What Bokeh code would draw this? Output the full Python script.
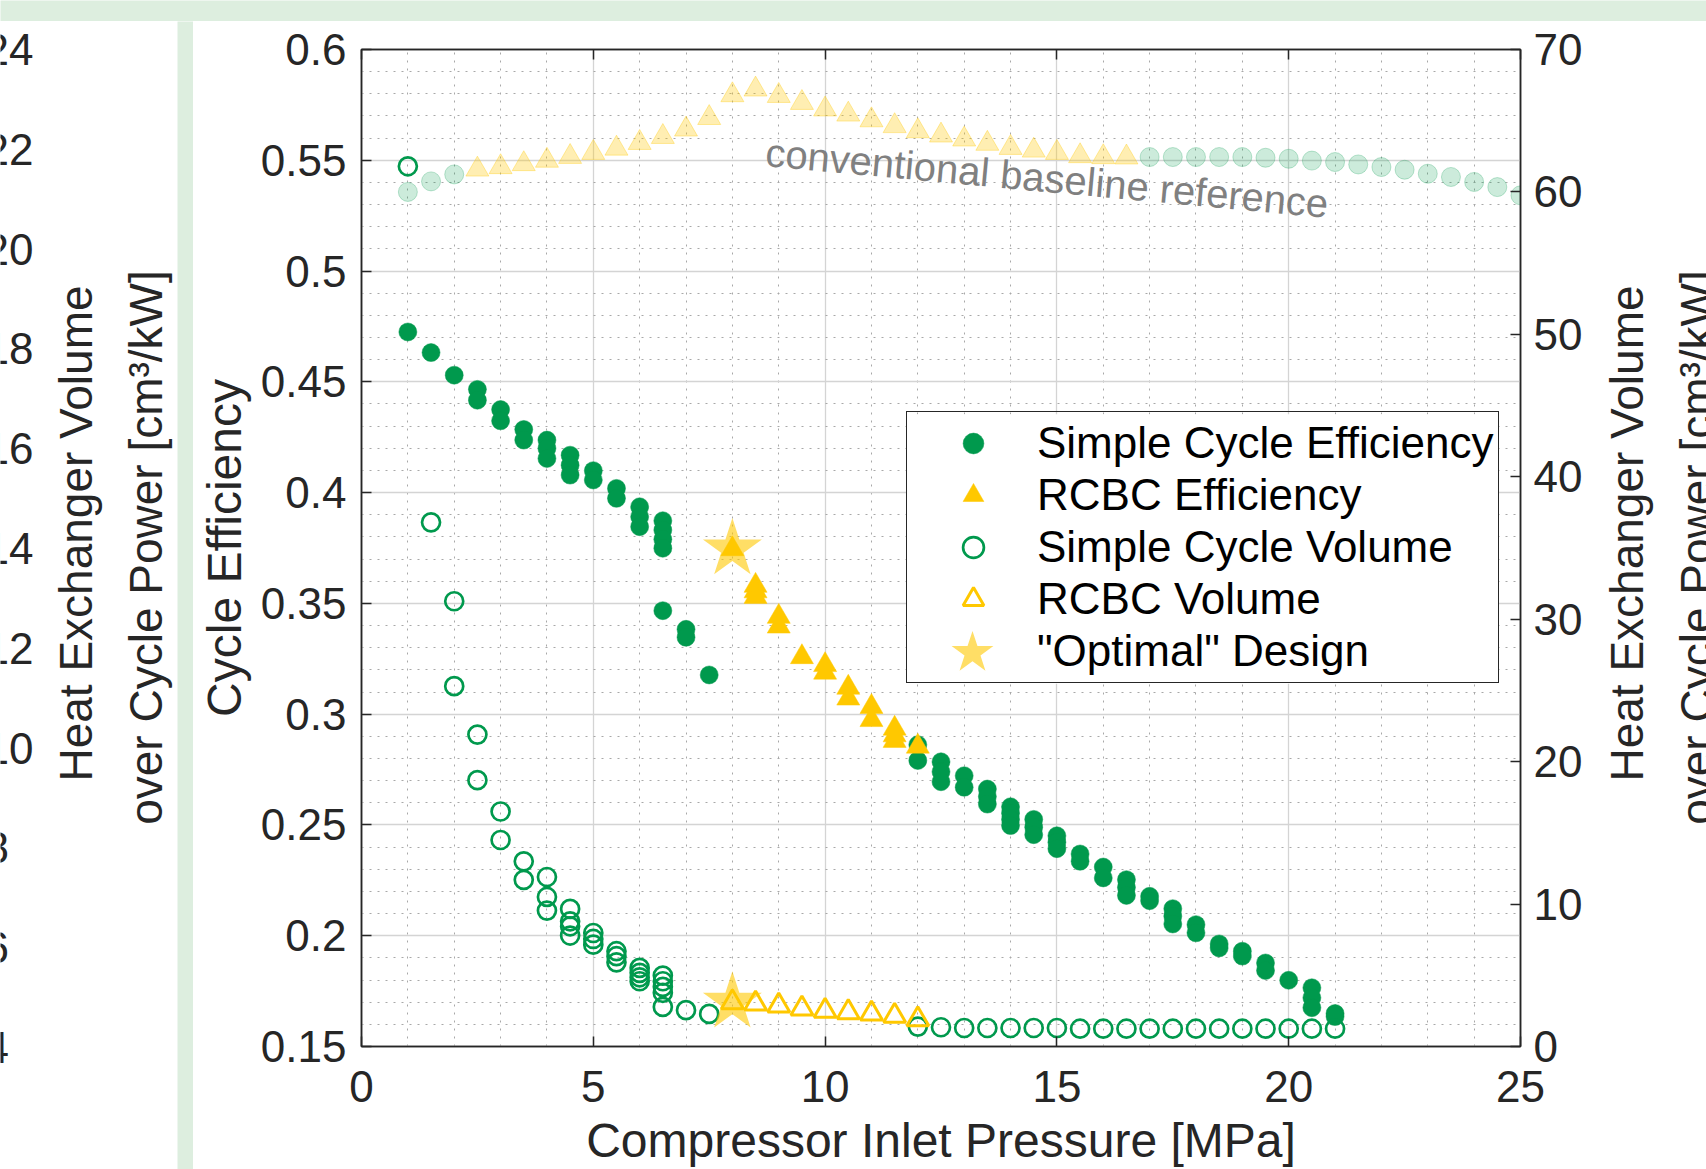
import math
from bokeh.plotting import figure
from bokeh.models import Range1d, LinearAxis, FixedTicker, Label, Legend, LegendItem
from bokeh.layouts import column, row
from bokeh.embed import file_html
from bokeh.resources import INLINE

# ---------------- data ----------------
# Simple cycle efficiency (filled circles, left axis)
SC_EFF_P = [1, 1.5, 2, 2.5, 2.5, 3, 3, 3.5, 3.5, 4, 4, 4, 4.5, 4.5, 4.5, 5, 5, 5.5, 5.5,
            6, 6, 6, 6.5, 6.5, 6.5, 6.5, 6.5, 7, 7, 7.5,
            12, 12, 12.5, 12.5, 12.5, 13, 13, 13.5, 13.5, 13.5, 14, 14, 14, 14,
            14.5, 14.5, 14.5, 15, 15, 15, 15.5, 15.5, 16, 16, 16.5, 16.5, 16.5,
            17, 17, 17.5, 17.5, 17.5, 18, 18, 18.5, 18.5, 19, 19, 19.5, 19.5, 20,
            20.5, 20.5, 20.5, 21, 21]
SC_EFF = [0.4725, 0.4632, 0.453, 0.4466, 0.4417, 0.4375, 0.4324, 0.4285, 0.4237,
          0.4237, 0.42, 0.4154, 0.4169, 0.4124, 0.4079, 0.4099, 0.4057, 0.4019, 0.3974,
          0.3936, 0.3891, 0.3846, 0.3873, 0.3831, 0.3789, 0.3749, 0.3467, 0.3383, 0.3347, 0.3177,
          0.2862, 0.2791, 0.2785, 0.274, 0.2695, 0.2722, 0.267, 0.2662, 0.2628, 0.2594,
          0.2582, 0.2553, 0.2525, 0.2497, 0.2525, 0.249, 0.2456, 0.2451, 0.2422, 0.2393,
          0.2369, 0.2336, 0.231, 0.2261, 0.2253, 0.2218, 0.2182, 0.2178, 0.2158,
          0.2122, 0.2088, 0.2053, 0.205, 0.2013, 0.1963, 0.1945, 0.193, 0.1908,
          0.1877, 0.1843, 0.1799, 0.1765, 0.172, 0.1675, 0.1649, 0.1635]

# RCBC efficiency (filled triangles, left axis)
RC_EFF_P = [8, 8.5, 8.5, 8.5, 9, 9, 9.5, 10, 10, 10.5, 10.5, 11, 11, 11.5, 11.5, 11.5, 12]
RC_EFF = [0.3745, 0.358, 0.3555, 0.353, 0.344, 0.3396, 0.3258, 0.3222, 0.3188, 0.312, 0.3071,
          0.3033, 0.2974, 0.2935, 0.2905, 0.288, 0.2854]

# Simple cycle volume (open circles, right axis)
SC_VOL_P = [1, 1.5, 2, 2, 2.5, 2.5, 3, 3, 3.5, 3.5, 4, 4, 4, 4.5, 4.5, 4.5, 4.5,
            5, 5, 5, 5.5, 5.5, 5.5, 6, 6, 6, 6, 6.5, 6.5, 6.5, 6.5, 6.5, 7, 7.5,
            12, 12.5, 13, 13.5, 14, 14.5, 15, 15.5, 16, 16.5, 17, 17.5, 18, 18.5,
            19, 19.5, 20, 20.5, 21]
SC_VOL = [61.8, 36.8, 31.26, 25.3, 21.9, 18.7, 16.5, 14.5, 13.0, 11.7, 11.9, 10.5, 9.54,
          9.66, 8.79, 8.44, 7.79, 7.97, 7.55, 7.15, 6.69, 6.34, 5.91, 5.52, 5.17, 4.86, 4.58,
          4.98, 4.58, 4.19, 3.77, 2.78, 2.55, 2.29,
          1.4, 1.35, 1.3, 1.3, 1.3, 1.3, 1.3, 1.25, 1.25, 1.25, 1.25, 1.25, 1.25, 1.25,
          1.25, 1.25, 1.25, 1.25, 1.25]

# RCBC volume (open triangles, right axis)
RC_VOL_P = [8, 8.5, 9, 9.5, 10, 10.5, 11, 11.5, 12]
RC_VOL = [3.1, 3.0, 2.87, 2.66, 2.5, 2.4, 2.3, 2.15, 1.9]

# Conventional baseline reference (faded, right axis)
BASE_CIRC_P = [1, 1.5, 2, 17, 17.5, 18, 18.5, 19, 19.5, 20, 20.5, 21, 21.5, 22, 22.5,
               23, 23.5, 24, 24.5, 25]
BASE_CIRC = [60.0, 60.74, 61.23, 62.45, 62.45, 62.45, 62.45, 62.45, 62.4, 62.33, 62.2,
             62.1, 61.93, 61.75, 61.56, 61.28, 61.05, 60.7, 60.34, 59.76]
BASE_TRI_P = [2.5, 3, 3.5, 4, 4.5, 5, 5.5, 6, 6.5, 7, 7.5, 8, 8.5, 9, 9.5, 10, 10.5, 11,
              11.5, 12, 12.5, 13, 13.5, 14, 14.5, 15, 15.5, 16, 16.5]
BASE_TRI = [61.58, 61.75, 61.96, 62.2, 62.47, 62.75, 63.05, 63.45, 63.87, 64.39, 65.2,
            66.8, 67.2, 66.75, 66.26, 65.8, 65.44, 65.04, 64.63, 64.27, 63.97, 63.69,
            63.39, 63.1, 62.91, 62.75, 62.52, 62.45, 62.43]

# "Optimal" design
OPT_P = [8]
OPT_EFF = [0.3745]
OPT_VOL = [3.1]

# axes
X_TICKS = [0, 5, 10, 15, 20, 25]
X_TICK_LABELS = ["0", "5", "10", "15", "20", "25"]
EFF_TICKS = [0.15, 0.2, 0.25, 0.3, 0.35, 0.4, 0.45, 0.5, 0.55, 0.6]
EFF_TICK_LABELS = ["0.15", "0.2", "0.25", "0.3", "0.35", "0.4", "0.45", "0.5", "0.55", "0.6"]
VOL_TICKS = [0, 10, 20, 30, 40, 50, 60, 70]
VOL_TICK_LABELS = ["0", "10", "20", "30", "40", "50", "60", "70"]
PREV_TICKS = [4, 6, 8, 10, 12, 14, 16, 18, 20, 22, 24]
PREV_TICK_LABELS = ["4", "6", "8", "10", "12", "14", "16", "18", "20", "22", "24"]

LEGEND_LABELS = ["Simple Cycle Efficiency", "RCBC Efficiency", "Simple Cycle Volume",
                 "RCBC Volume", '"Optimal" Design']
X_LABEL = "Compressor Inlet Pressure [MPa]"
Y_LABEL = "Cycle Efficiency"
Y2_LABEL_1 = "Heat Exchanger Volume"
Y2_LABEL_2 = "over Cycle Power [cm\u00b3/kW]"
NOTE = "conventional baseline reference"

# ---------------- style ----------------
FONT = "Liberation Sans"
TXT = "#262626"
GREEN = "#00994D"
YELLOW = "#FFC800"
STAR_LEGEND = "#FFDE66"
BAND = "#DDEEDF"
TICK_FS = "44px"
LABEL_FS = "48px"
TITLE_FS = "46px"

W, H = 1706, 1169
BAND_H = 21
LEFT_W = 177
STRIP_W = 16
RIGHT_W = 106
MAIN_W = W - LEFT_W - STRIP_W - RIGHT_W
ROW_H = H - BAND_H
B_LEFT, B_RIGHT, B_TOP, B_BOTTOM = 168, 80, 28, 122
FRAME_W = MAIN_W - B_LEFT - B_RIGHT
FRAME_H = ROW_H - B_TOP - B_BOTTOM
X_MIN, X_MAX = 0, 25
E_MIN, E_MAX = 0.15, 0.6

LEG_LOC = (545, 363)
LEG_PAD = 5
LEG_GLYPH_W = 122
LEG_ROW_H = 52
LEG_W = 592
LEG_H = 2 * LEG_PAD + 5 * LEG_ROW_H


def px_to_x(px):
    return X_MIN + px * (X_MAX - X_MIN) / FRAME_W


def px_to_e(px):
    return E_MIN + px * (E_MAX - E_MIN) / FRAME_H


def blank(width, height, color, xr=(0, 1), yr=(0, 1)):
    f = figure(width=width, height=height, output_backend="svg", toolbar_location=None,
               x_axis_type=None, y_axis_type=None, min_border=0,
               x_range=Range1d(*xr), y_range=Range1d(*yr))
    f.background_fill_color = color
    f.border_fill_color = color
    f.outline_line_color = None
    f.grid.visible = False
    try:
        f.frame_align = False
    except Exception:
        pass
    return f


top_band = blank(W, BAND_H, BAND)
strip = blank(STRIP_W, ROW_H, BAND)

# ---- cropped neighbouring panel on the left (its right axis) ----
left = blank(LEFT_W, ROW_H, "white", xr=(0, LEFT_W), yr=(1.5551, 24.5611))
for v, t in zip(PREV_TICKS, PREV_TICK_LABELS):
    left.add_layout(Label(x=-16, y=v, text=t, text_font=FONT, text_font_size=TICK_FS,
                          text_color=TXT, text_align="left", text_baseline="middle"))


def titles(fig, x1, x2):
    fig.add_layout(Label(x=x1, y=636, y_units="screen", text=Y2_LABEL_1, angle=math.pi / 2,
                         text_font=FONT, text_font_size=TITLE_FS, text_color=TXT,
                         text_align="center", text_baseline="alphabetic"))
    fig.add_layout(Label(x=x2, y=622, y_units="screen", text=Y2_LABEL_2, angle=math.pi / 2,
                         text_font=FONT, text_font_size=TITLE_FS, text_color=TXT,
                         text_align="center", text_baseline="alphabetic"))


titles(left, 75, 145)

# ---- right-axis title panel ----
x0_right = LEFT_W + STRIP_W + MAIN_W
right = blank(RIGHT_W, ROW_H, "white", xr=(x0_right, W), yr=(0, 1))
titles(right, 1626, 1696)

# ---- main chart ----
p = figure(width=MAIN_W, height=ROW_H, output_backend="svg", toolbar_location=None,
           x_range=Range1d(X_MIN, X_MAX), y_range=Range1d(E_MIN, E_MAX),
           min_border_left=B_LEFT, min_border_right=B_RIGHT, min_border_top=B_TOP,
           min_border_bottom=B_BOTTOM)
p.extra_y_ranges = {"vol": Range1d(0, 70)}
p.background_fill_color = "white"
p.border_fill_color = "white"
p.outline_line_color = TXT
p.outline_line_width = 1.5

x_minor = [i for i in range(0, 26) if i % 5]
y_minor = [round(0.15 + k * 0.01, 2) for k in range(0, 46) if k % 5]
xt = FixedTicker(ticks=X_TICKS, minor_ticks=x_minor)
yt = FixedTicker(ticks=EFF_TICKS, minor_ticks=y_minor)
vt = FixedTicker(ticks=VOL_TICKS)


def style_axis(ax, standoff):
    ax.axis_line_color = TXT
    ax.axis_line_width = 1.5
    ax.major_tick_line_color = TXT
    ax.major_tick_line_width = 1.5
    ax.major_tick_in = 10
    ax.major_tick_out = 0
    ax.minor_tick_in = 0
    ax.minor_tick_out = 0
    ax.minor_tick_line_color = None
    ax.major_label_text_font = FONT
    ax.major_label_text_font_size = TICK_FS
    ax.major_label_text_color = TXT
    ax.major_label_standoff = standoff
    ax.axis_label_text_font = FONT
    ax.axis_label_text_font_size = LABEL_FS
    ax.axis_label_text_font_style = "normal"
    ax.axis_label_text_color = TXT


xa = p.xaxis[0]
xa.ticker = xt
xa.major_label_overrides = dict(zip(X_TICKS, X_TICK_LABELS))
style_axis(xa, 24)
xa.axis_label = X_LABEL
xa.axis_label_standoff = 9

ya = p.yaxis[0]
ya.ticker = yt
ya.major_label_overrides = dict(zip(EFF_TICKS, EFF_TICK_LABELS))
style_axis(ya, 15)
ya.axis_label = Y_LABEL
ya.axis_label_standoff = 7

ra = LinearAxis(y_range_name="vol", ticker=vt,
                major_label_overrides=dict(zip(VOL_TICKS, VOL_TICK_LABELS)))
style_axis(ra, 13)
p.add_layout(ra, "right")

ta = LinearAxis(ticker=xt)
style_axis(ta, 0)
ta.major_label_text_font_size = "1px"
ta.major_label_text_color = None
p.add_layout(ta, "above")

p.xgrid.ticker = xt
p.ygrid.ticker = yt
for g in (p.xgrid[0], p.ygrid[0]):
    g.grid_line_color = "#D4D4D4"
    g.grid_line_width = 1.3
    g.minor_grid_line_color = "#A8A8A8"
    g.minor_grid_line_width = 1
    g.minor_grid_line_dash = "2 6"

# glyphs
p.scatter(BASE_CIRC_P, BASE_CIRC, y_range_name="vol", marker="circle", size=19,
          fill_color=GREEN, fill_alpha=0.2, line_color=GREEN, line_alpha=0.25, line_width=1)
p.scatter(BASE_TRI_P, BASE_TRI, y_range_name="vol", marker="triangle", size=23,
          fill_color=YELLOW, fill_alpha=0.3, line_color=YELLOW, line_alpha=0.35, line_width=1)
r_sc = p.scatter(SC_EFF_P, SC_EFF, marker="circle", size=18, fill_color=GREEN,
                 line_color=GREEN, line_width=0.5)
r_rc = p.scatter(RC_EFF_P, RC_EFF, marker="triangle", size=23, fill_color=YELLOW,
                 line_color=YELLOW, line_width=0.5)
r_scv = p.scatter(SC_VOL_P, SC_VOL, y_range_name="vol", marker="circle", size=18,
                  fill_color=None, line_color=GREEN, line_width=2.7)
r_rcv = p.scatter(RC_VOL_P, RC_VOL, y_range_name="vol", marker="triangle", size=22,
                  fill_color=None, line_color=YELLOW, line_width=3)
p.scatter(OPT_P, OPT_EFF, marker="star", size=62, fill_color=YELLOW,
          fill_alpha=0.6, line_color=None)
p.scatter(OPT_P, OPT_VOL, y_range_name="vol", marker="star", size=62, fill_color=YELLOW,
          fill_alpha=0.6, line_color=None)
# invisible twin used only as the legend entry (the legend symbol is drawn larger below)
r_star_key = p.scatter(OPT_P, OPT_EFF, marker="star", size=62, fill_alpha=0, line_alpha=0)

p.add_layout(Label(x=8.72, y=0.5537, text=NOTE, angle=-0.0918, text_font=FONT,
                   text_font_size="40px", text_color="#808080", text_align="left",
                   text_baseline="alphabetic"))

# legend background (white box) and the enlarged "Optimal" symbol, under a transparent legend
p.quad(left=[px_to_x(LEG_LOC[0])], right=[px_to_x(LEG_LOC[0] + LEG_W)],
       bottom=[px_to_e(LEG_LOC[1])], top=[px_to_e(LEG_LOC[1] + LEG_H)],
       fill_color="white", line_color=None)
p.scatter([px_to_x(LEG_LOC[0] + LEG_PAD + LEG_GLYPH_W / 2)],
          [px_to_e(LEG_LOC[1] + LEG_PAD + LEG_ROW_H / 2)],
          marker="star", size=44, fill_color=STAR_LEGEND, line_color=None)

legend = Legend(items=[LegendItem(label=LEGEND_LABELS[0], renderers=[r_sc]),
                       LegendItem(label=LEGEND_LABELS[1], renderers=[r_rc]),
                       LegendItem(label=LEGEND_LABELS[2], renderers=[r_scv]),
                       LegendItem(label=LEGEND_LABELS[3], renderers=[r_rcv]),
                       LegendItem(label=LEGEND_LABELS[4], renderers=[r_star_key])],
                location=LEG_LOC, orientation="vertical")
legend.label_text_font = FONT
legend.label_text_font_size = "44px"
legend.label_text_color = "#000000"
legend.glyph_width = LEG_GLYPH_W
legend.glyph_height = LEG_ROW_H
legend.label_height = LEG_ROW_H
legend.spacing = 0
legend.padding = LEG_PAD
legend.margin = 0
legend.label_standoff = 3
legend.border_line_color = TXT
legend.border_line_width = 1.5
legend.border_line_alpha = 1
legend.background_fill_alpha = 0
p.add_layout(legend, "center")

layout = column(top_band, row(left, strip, p, right, spacing=0), spacing=0)

with open("out.html", "w") as f:
    f.write(file_html(layout, INLINE))
